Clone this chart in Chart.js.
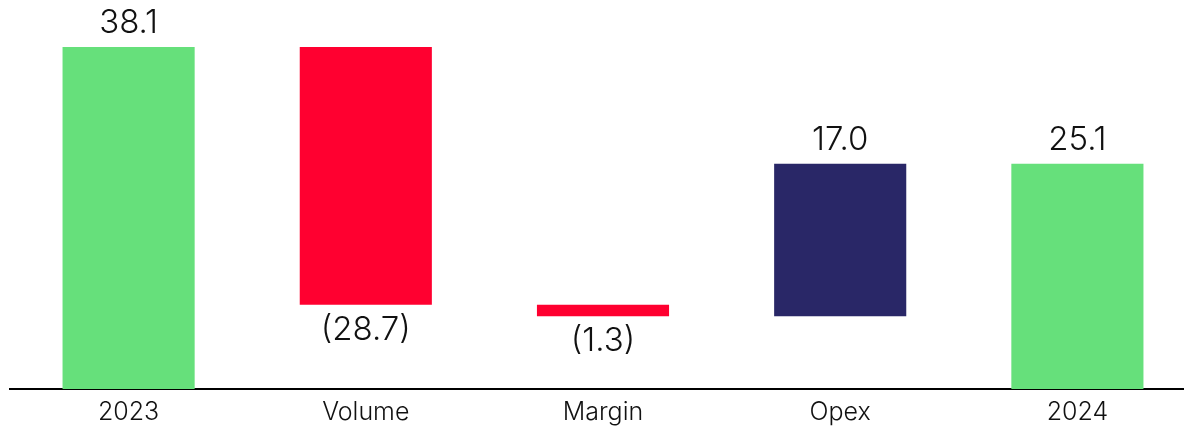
<!DOCTYPE html>
<html>
<head>
<meta charset="utf-8">
<script src="https://cdn.jsdelivr.net/npm/chart.js@4"></script>
<style>
  html, body { margin: 0; padding: 0; background: #fff; overflow: hidden; }
  #wrap { width: 1196px; height: 428px; position: relative; }
</style>
</head>
<body>
<div id="wrap"><canvas id="chart-bridge"></canvas></div>
<script>
const categories = ['2023', 'Volume', 'Margin', 'Opex', '2024'];
const deltas = [38.1, -28.7, -1.3, 17.0, 25.1];
const isTotal = [true, false, false, false, true];
const labelsTxt = ['38.1', '(28.7)', '(1.3)', '17.0', '25.1'];

const GREEN = '#66E07B';
const RED = '#FF0030';
const NAVY = '#292767';

// floating bars: [start, end]
let run = 0;
const ranges = deltas.map((d, i) => {
  if (isTotal[i]) { run = d; return [0, d]; }
  const r = [run, run + d];
  run += d;
  return r;
});
const colors = deltas.map((d, i) => isTotal[i] ? GREEN : (d < 0 ? RED : NAVY));

const valueLabels = {
  id: 'valueLabels',
  afterDatasetsDraw(chart) {
    const ctx = chart.ctx;
    const meta = chart.getDatasetMeta(0);
    ctx.save();
    ctx.font = '300 33px Inter, sans-serif';
    ctx.fillStyle = '#111';
    ctx.textAlign = 'center';
    ctx.textBaseline = 'alphabetic';
    meta.data.forEach((bar, i) => {
      const top = Math.min(bar.y, bar.base);
      const bottom = Math.max(bar.y, bar.base);
      if (deltas[i] >= 0) {
        ctx.fillText(labelsTxt[i], bar.x, top - 14);
      } else {
        ctx.fillText(labelsTxt[i], bar.x, bottom + 35);
      }
    });
    ctx.restore();
  }
};

new Chart(document.getElementById('chart-bridge'), {
  type: 'bar',
  data: {
    labels: categories,
    datasets: [{
      data: ranges,
      backgroundColor: colors,
      borderWidth: 0,
      barPercentage: 0.557,
      categoryPercentage: 1
    }]
  },
  options: {
    responsive: true,
    maintainAspectRatio: false,
    animation: false,
    layout: { padding: { left: 10, right: 0, top: 0, bottom: 0 } },
    plugins: { legend: { display: false }, tooltip: { enabled: false } },
    scales: {
      x: {
        grid: { display: false, drawTicks: false },
        border: { display: true, color: '#000', width: 2 },
        ticks: { color: '#111', font: { family: 'Inter, sans-serif', size: 25, weight: '300' }, padding: 8 },
        afterFit(scale) { scale.height = 39; }
      },
      y: {
        display: false,
        min: 0,
        max: 43.34
      }
    }
  },
  plugins: [valueLabels]
});
</script>
</body>
</html>
